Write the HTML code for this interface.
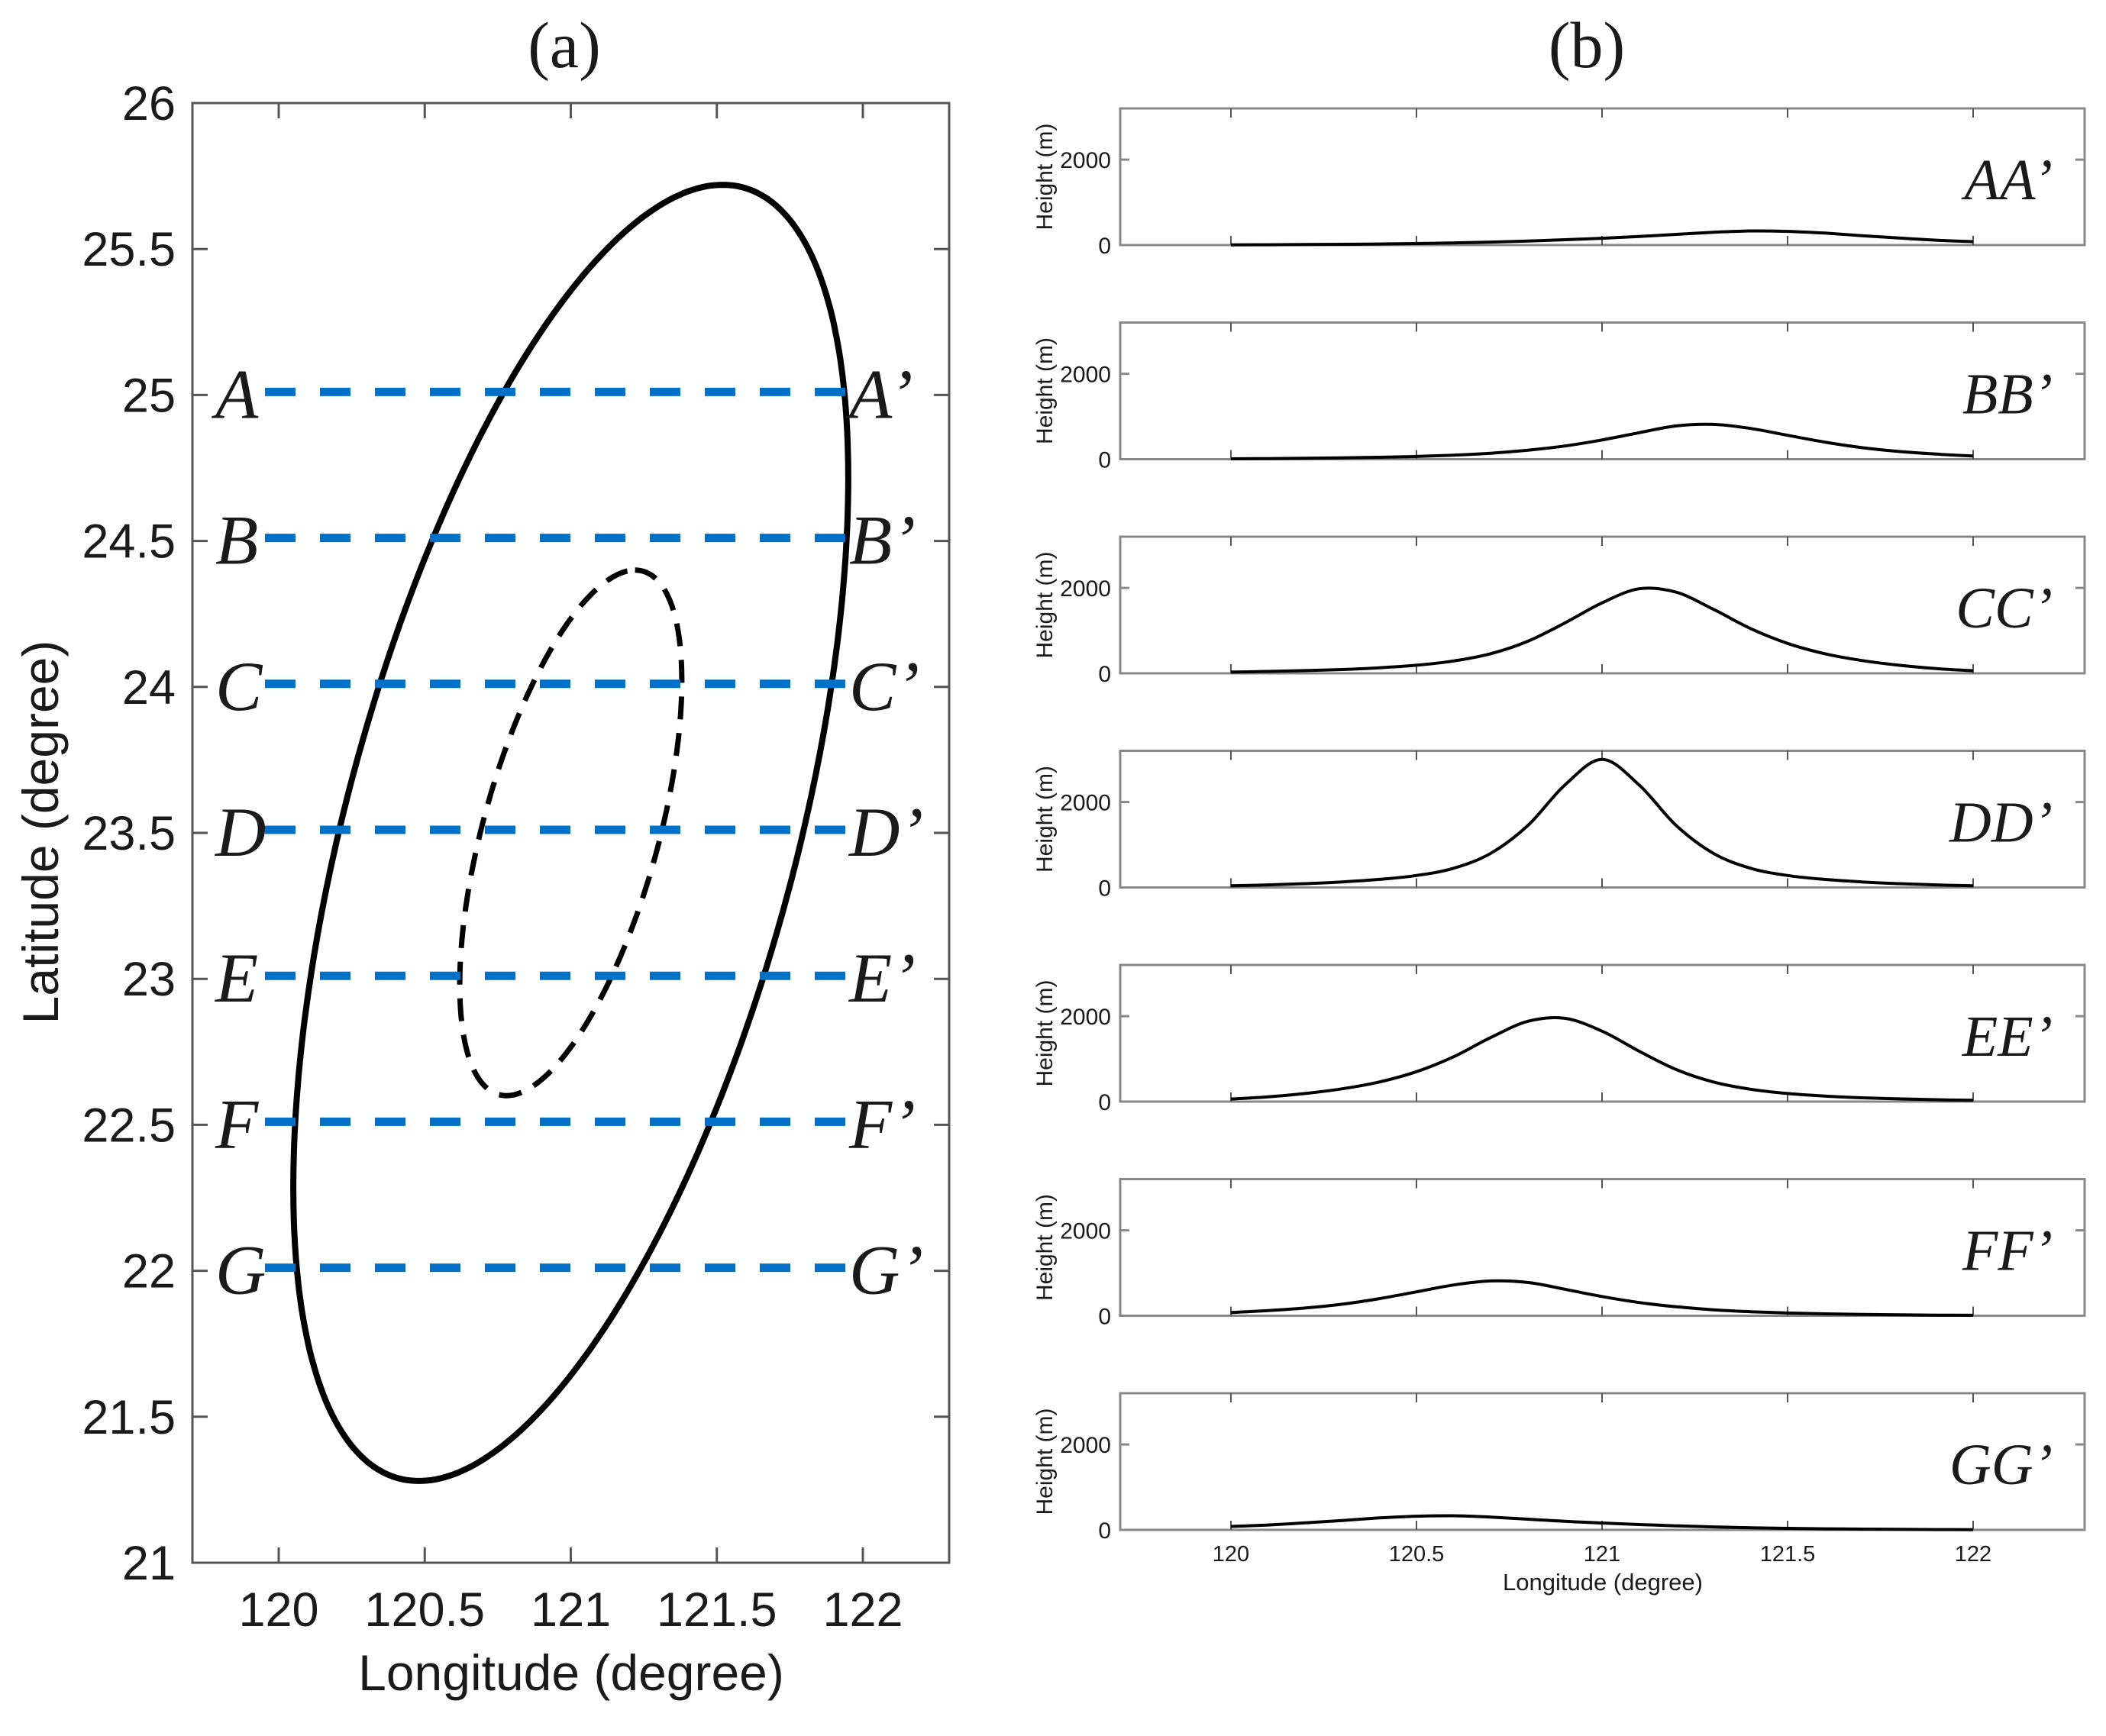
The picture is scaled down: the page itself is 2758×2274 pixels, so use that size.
<!DOCTYPE html>
<html><head><meta charset="utf-8">
<style>
html,body{margin:0;padding:0;background:#fff;}
svg{display:block;}
text{font-family:"Liberation Sans",sans-serif;fill:#1a1a1a;}
.ser{font-family:"Liberation Serif",serif;}
</style></head>
<body>
<svg id="fig" width="2758" height="2274" viewBox="0 0 2758 2274" xmlns="http://www.w3.org/2000/svg">
<rect width="2758" height="2274" fill="#fff"/>
<text class="ser" x="739" y="88" font-size="86" text-anchor="middle">(a)</text>
<text class="ser" x="2078" y="88" font-size="86" text-anchor="middle">(b)</text>
<g id="pa"></g>
<g id="pb"></g>
</svg>
<script>
const NS="http://www.w3.org/2000/svg";
// ---------- data ----------
const sectionLats=[25,24.5,24,23.5,23,22.5,22];
const sectionNames=["A","B","C","D","E","F","G"];
const latTicks=[21,21.5,22,22.5,23,23.5,24,24.5,25,25.5,26];
const lonTicks=[120,120.5,121,121.5,122];
const outerEllipse={cx:121,cy:23.5,ux:0.52,uy:2.22,vx:0.795,vy:0};
const innerEllipse={cx:121,cy:23.5,ux:0.22,uy:0.9,vx:0.31,vy:0};
const profileLon=[120,120.1,120.2,120.3,120.4,120.5,120.6,120.7,120.8,120.9,121,121.1,121.2,121.3,121.4,121.5,121.6,121.7,121.8,121.9,122];
const hAA=[5,8,12,18,25,35,50,70,95,125,160,200,250,300,330,320,280,220,165,115,80];
const hBB=[10,15,22,32,45,65,95,140,210,310,450,620,780,815,720,560,400,270,180,120,75];
const hCC=[30,45,65,90,130,190,290,460,750,1180,1650,1980,1900,1500,1050,700,460,300,190,110,60];
const hDD=[40,60,90,130,190,280,450,800,1450,2400,3000,2400,1450,800,450,280,190,130,90,60,40];
const hEE=[60,110,190,300,460,700,1050,1500,1880,1950,1650,1180,750,460,290,190,130,90,65,45,30];
const hFF=[75,120,180,270,400,560,720,815,780,620,450,310,210,140,95,65,45,32,22,15,10];
const hGG=[80,115,165,220,280,320,330,300,250,200,160,125,95,70,50,35,25,18,12,8,5];
const profileLabels=["AA’","BB’","CC’","DD’","EE’","FF’","GG’"];
const heightTicks=[0,2000];

function mk(tag,attrs,parent,txt){const e=document.createElementNS(NS,tag);for(const k in attrs)e.setAttribute(k,attrs[k]);if(txt!==undefined)e.textContent=txt;parent.appendChild(e);return e;}

// ---------- panel a ----------
const pa=document.getElementById('pa');
const AX={l:252,r:1243,t:135,b:2047};
const xa=lon=>365+(lon-120)*382.5;
const ya=lat=>2047-(lat-21)*382.4;
let r=mk('rect',{x:AX.l,y:AX.t,width:AX.r-AX.l,height:AX.b-AX.t,fill:'none',stroke:'#555',"stroke-width":3},pa);


latTicks.forEach(v=>{
  const y=ya(v);
  mk('line',{x1:AX.l,x2:AX.l+20,y1:y,y2:y,stroke:'#555',"stroke-width":3},pa);
  mk('line',{x1:AX.r,x2:AX.r-20,y1:y,y2:y,stroke:'#555',"stroke-width":3},pa);
  const t=mk('text',{x:230,y:y+22,"font-size":63,"text-anchor":"end"},pa,String(v));
  
  
});
lonTicks.forEach(v=>{
  const x=xa(v);
  mk('line',{x1:x,x2:x,y1:AX.b,y2:AX.b-20,stroke:'#555',"stroke-width":3},pa);
  mk('line',{x1:x,x2:x,y1:AX.t,y2:AX.t+20,stroke:'#555',"stroke-width":3},pa);
  const t=mk('text',{x:x,y:2130,"font-size":63,"text-anchor":"middle"},pa,String(v));
  
  
});
let lt=mk('text',{x:748,y:2214,"font-size":66,"text-anchor":"middle"},pa,"Longitude (degree)");


let la=mk('text',{x:0,y:0,"font-size":66,"text-anchor":"middle",transform:"translate(76,1090) rotate(-90)"},pa,"Latitude (degree)");



function ellipsePath(E){
  let d='';
  for(let i=0;i<=360;i++){const t=i*Math.PI/180;
    const lon=E.cx+E.ux*Math.cos(t)+E.vx*Math.sin(t);
    const lat=E.cy+E.uy*Math.cos(t)+E.vy*Math.sin(t);
    d+=(i?'L':'M')+xa(lon).toFixed(1)+' '+ya(lat).toFixed(1);}
  return d+'Z';
}
let eo=mk('path',{d:ellipsePath(outerEllipse),fill:'none',stroke:'#000',"stroke-width":8},pa);


let ei=mk('path',{d:ellipsePath(innerEllipse),fill:'none',stroke:'#000',"stroke-width":7,"stroke-dasharray":"30 18"},pa);



sectionLats.forEach((lat,i)=>{
  const y=ya(lat)-4;
  const ln=mk('line',{x1:347,x2:1110,y1:y,y2:y,stroke:'#0070c8',"stroke-width":11,"stroke-dasharray":"40 32"},pa);
  
  
  const a=mk('text',{class:'ser',x:282,y:y+34,"font-size":92,"font-style":"italic"},pa,sectionNames[i]);
  
  
  const b=mk('text',{class:'ser',x:1112,y:y+34,"font-size":92,"font-style":"italic"},pa,sectionNames[i]+"’");
  
  
});

// ---------- panel b ----------
const pb=document.getElementById('pb');
const series=[hAA,hBB,hCC,hDD,hEE,hFF,hGG];
const BL=1467,BR=2730,BH=179,bottom0=321,period=280.5;
const xb=lon=>1612+(lon-120)*486;
series.forEach((h,k)=>{
  const bot=bottom0+k*period, top=bot-BH;
  const yb=v=>bot-v*(BH/3200);
  const g=mk('g',{},pb);
  
  
  mk('rect',{x:BL,y:top,width:BR-BL,height:BH,fill:'none',stroke:'#888',"stroke-width":3},g);
  lonTicks.forEach(v=>{const x=xb(v);
    mk('line',{x1:x,x2:x,y1:bot,y2:bot-12,stroke:'#555',"stroke-width":2},g);
    mk('line',{x1:x,x2:x,y1:top,y2:top+12,stroke:'#555',"stroke-width":2},g);
    if(k===6){const t=mk('text',{x:x,y:2045,"font-size":29,"text-anchor":"middle"},g,String(v));
      
      }
  });
  heightTicks.forEach(v=>{const y=yb(v);
    mk('line',{x1:BL,x2:BL+12,y1:y,y2:y,stroke:'#888',"stroke-width":3},g);
    mk('line',{x1:BR,x2:BR-12,y1:y,y2:y,stroke:'#888',"stroke-width":3},g);
    const t=mk('text',{x:1455,y:y+11,"font-size":30,"text-anchor":"end"},g,String(v));
    
    
  });
  const yl=mk('text',{x:0,y:0,"font-size":30,"text-anchor":"middle",transform:`translate(1378,${(top+bot)/2}) rotate(-90)`},g,"Height (m)");
  
  
  const P=profileLon.map((lon,i)=>[xb(lon),yb(h[i])]);
  let d='M'+P[0][0]+' '+P[0][1];
  for(let i=0;i<P.length-1;i++){
    const p0=P[Math.max(0,i-1)],p1=P[i],p2=P[i+1],p3=P[Math.min(P.length-1,i+2)];
    const c1=[p1[0]+(p2[0]-p0[0])/6,p1[1]+(p2[1]-p0[1])/6];
    const c2=[p2[0]-(p3[0]-p1[0])/6,p2[1]-(p3[1]-p1[1])/6];
    d+=`C${c1[0].toFixed(1)} ${c1[1].toFixed(1)} ${c2[0].toFixed(1)} ${c2[1].toFixed(1)} ${p2[0].toFixed(1)} ${p2[1].toFixed(1)}`;
  }
  const c=mk('path',{d:d,fill:'none',stroke:'#000',"stroke-width":4},g);
  
  
  const lb=mk('text',{class:'ser',x:2688,y:top+119,"font-size":76,"font-style":"italic","text-anchor":"end"},g,profileLabels[k]);
  
  
});
let bx=mk('text',{x:2099,y:2083,"font-size":31,"text-anchor":"middle"},pb,"Longitude (degree)");


</script>
</body></html>
